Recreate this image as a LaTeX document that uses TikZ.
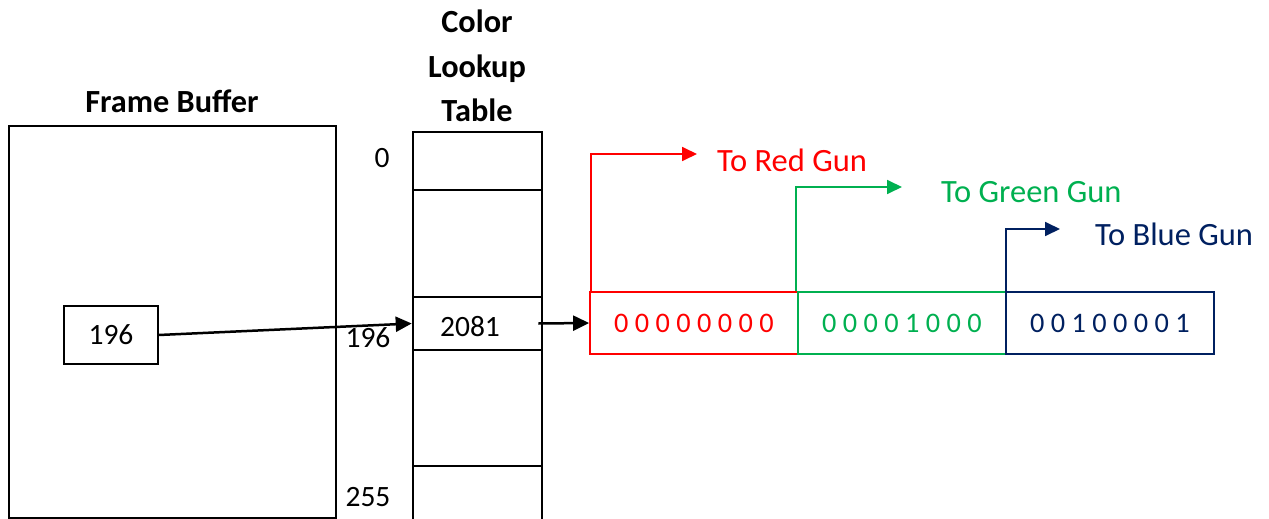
\documentclass[tikz,border=0pt]{standalone}
\usepackage{fontspec}
\setmainfont{Carlito}
\usetikzlibrary{arrows.meta}
\definecolor{gunred}{RGB}{255,0,0}
\definecolor{gungreen}{RGB}{0,176,80}
\definecolor{gunblue}{RGB}{0,32,96}
\begin{document}
\begin{tikzpicture}[x=1pt,y=-1pt,
  txt/.style={font=\fontsize{29.5}{35}\selectfont, inner sep=0pt},
  regtxt/.style={font=\fontsize{28.3}{34}\selectfont, inner sep=0pt},
  guntxt/.style={font=\fontsize{32.5}{38}\selectfont, inner sep=0pt, anchor=west},
  hdr/.style={font=\bfseries\fontsize{32.3}{44.5}\selectfont, inner sep=0pt, align=center},
  tbl/.style={line width=2.6pt},
  blackarrow/.style={line width=2.5pt, -{Triangle[length=16pt,width=15pt]}},
  gunarrow/.style={line width=1.8pt, -{Triangle[length=15pt,width=14pt]}},
  regbox/.style={line width=1.8pt, minimum width=208pt, minimum height=62pt, inner sep=0pt, regtxt}
]
\useasboundingbox (0,0) rectangle (1269,519);
% Frame buffer
\node[draw, line width=1.7pt, minimum width=327pt, minimum height=392pt, inner sep=0pt] (fb) at (172.5,322) {};
\node[hdr] (fbtitle) at (172,101) {Frame Buffer};
\node[draw, line width=1.7pt, minimum width=94pt, minimum height=58pt, txt] (fbval) at (111,335) {196};
% Color lookup table
\node[hdr] (cluttitle) at (477,66) {Color\\Lookup\\Table};
\draw[tbl] (413,522) -- (413,132) -- (542,132) -- (542,522);
\draw[tbl] (413,190) -- (542,190);
\draw[tbl] (413,466) -- (542,466);
\node[draw, tbl, minimum width=129pt, minimum height=53pt, inner sep=0pt] (cell196) at (477.5,323.5) {};
\node[txt] (t2081) at (470,327) {2081};
\node[txt] (i0) at (382,158) {0};
\node[txt] (i196) at (368,338) {196};
\node[txt] (i255) at (368,497) {255};
% Register
\node[regbox, draw=gunred, text=gunred] (red) at (694,323) {0 0 0 0 0 0 0 0};
\node[regbox, draw=gungreen, text=gungreen] (green) at (902,323) {0 0 0 0 1 0 0 0};
\node[regbox, draw=gunblue, text=gunblue] (blue) at (1110,323) {0 0 1 0 0 0 0 1};
% Connectors
\draw[blackarrow] (fbval.east) -- (cell196.west);
\draw[blackarrow] ([xshift=-5pt]cell196.east) -- (red.west);
% Gun outputs
\coordinate (redtip) at (697,154);
\coordinate (greentip) at (902,187);
\coordinate (bluetip) at (1060,229);
\node[guntxt, text=gunred] (redlbl) at (717,160) {To Red Gun};
\node[guntxt, text=gungreen] (greenlbl) at (941,192) {To Green Gun};
\node[guntxt, text=gunblue] (bluelbl) at (1095,234) {To Blue Gun};
\draw[gunarrow, gunred] ([xshift=2pt]red.north west) |- (redtip);
\draw[gunarrow, gungreen] ([xshift=-1pt]green.north west) |- (greentip);
\draw[gunarrow, gunblue] ([xshift=1pt]blue.north west) |- (bluetip);
\end{tikzpicture}
\end{document}
